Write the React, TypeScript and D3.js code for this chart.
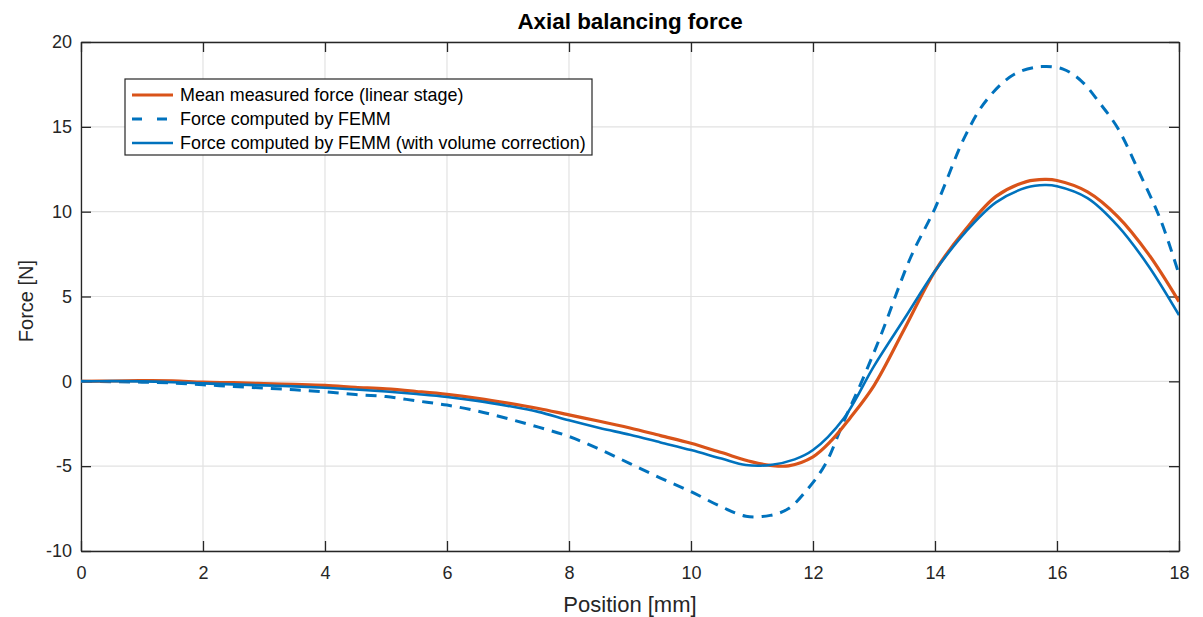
import React, { useEffect, useRef } from 'react'
import * as d3 from 'd3'

// positions in mm, forces in N
const measuredX = [0, 0.5, 1, 1.5, 2, 2.5, 3, 3.5, 4, 4.5, 5, 5.5, 6, 6.5, 7, 7.5, 8, 8.5, 9, 9.5, 10, 10.5, 11, 11.3, 11.6, 12, 12.3, 12.6, 13, 13.5, 14, 14.5, 15, 15.5, 15.8, 16, 16.5, 17, 17.5, 18]
const measuredF = [0, 0.02, 0.04, 0.03, -0.05, -0.08, -0.13, -0.18, -0.24, -0.35, -0.45, -0.6, -0.77, -1.0, -1.28, -1.6, -1.98, -2.35, -2.75, -3.2, -3.65, -4.2, -4.75, -4.95, -4.98, -4.45, -3.5, -2.2, -0.25, 3.1, 6.5, 8.95, 10.9, 11.77, 11.9, 11.84, 11.17, 9.7, 7.5, 4.7]

const femmX = [0, 0.5, 1, 1.5, 2, 2.5, 3, 3.5, 4, 4.5, 5, 5.5, 6, 6.5, 7, 7.5, 8, 8.5, 9, 9.5, 10, 10.5, 10.9, 11.3, 11.6, 11.9, 12.2, 12.5, 12.8, 13.1, 13.6, 14, 14.5, 14.85, 15.3, 15.75, 16.1, 16.4, 16.7, 17, 17.35, 17.7, 18]
const femmF = [0, -0.02, -0.05, -0.1, -0.2, -0.3, -0.4, -0.5, -0.62, -0.78, -0.9, -1.15, -1.4, -1.75, -2.2, -2.7, -3.25, -4.0, -4.85, -5.7, -6.5, -7.4, -7.95, -7.9, -7.5, -6.4, -4.9, -2.4, 0, 2.6, 7.3, 10.2, 14.5, 16.6, 18.1, 18.55, 18.4, 17.7, 16.4, 14.9, 12.3, 9.5, 6.3]

const correctedX = [0, 0.5, 1, 1.5, 2, 2.5, 3, 3.5, 4, 4.5, 5, 5.5, 6, 6.5, 7, 7.5, 8, 8.5, 9, 9.5, 10, 10.5, 10.9, 11.3, 11.7, 12, 12.5, 13, 13.5, 14, 14.5, 15, 15.5, 15.8, 16, 16.5, 17, 17.5, 18]
const correctedF = [0, 0.01, 0, -0.05, -0.12, -0.18, -0.24, -0.3, -0.38, -0.48, -0.6, -0.75, -0.92, -1.15, -1.45, -1.8, -2.3, -2.75, -3.15, -3.6, -4.05, -4.55, -4.93, -4.93, -4.6, -4.05, -2.2, 0.9, 3.7, 6.5, 8.8, 10.55, 11.42, 11.57, 11.5, 10.8, 9.15, 6.8, 3.9]

const xTicks = [0, 2, 4, 6, 8, 10, 12, 14, 16, 18]
const yTicks = [-10, -5, 0, 5, 10, 15, 20]

const legendLabels = [
  'Mean measured force (linear stage)',
  'Force computed by FEMM',
  'Force computed by FEMM (with volume correction)',
]

export default function App() {
  const chartRef = useRef<HTMLDivElement>(null)

  useEffect(() => {
    const width = 1203
    const height = 617
    const margin = { top: 42, right: 24, bottom: 66, left: 81 }
    const innerWidth = width - margin.left - margin.right
    const innerHeight = height - margin.top - margin.bottom
    const font = 'Liberation Sans, Arial, Helvetica, sans-serif'
    const orange = '#D95319'
    const blue = '#0072BD'
    const axisColor = '#262626'

    d3.select(chartRef.current).selectAll('*').remove()

    const svg = d3
      .select(chartRef.current)
      .append('svg')
      .attr('width', width)
      .attr('height', height)
      .style('display', 'block')
      .style('background', '#fff')

    const xScale = d3.scaleLinear().domain([0, 18]).range([0, innerWidth])
    const yScale = d3.scaleLinear().domain([-10, 20]).range([innerHeight, 0])

    const g = svg.append('g').attr('transform', `translate(${margin.left},${margin.top})`)

    svg.append('defs')
      .append('clipPath')
      .attr('id', 'plot-clip')
      .append('rect')
      .attr('width', innerWidth)
      .attr('height', innerHeight)

    // grid
    g.append('g')
      .selectAll('line')
      .data(xTicks)
      .enter()
      .append('line')
      .attr('x1', d => xScale(d))
      .attr('x2', d => xScale(d))
      .attr('y1', 0)
      .attr('y2', innerHeight)
      .attr('stroke', '#e2e2e2')
      .attr('stroke-width', 1.2)

    g.append('g')
      .selectAll('line')
      .data(yTicks)
      .enter()
      .append('line')
      .attr('x1', 0)
      .attr('x2', innerWidth)
      .attr('y1', d => yScale(d))
      .attr('y2', d => yScale(d))
      .attr('stroke', '#e2e2e2')
      .attr('stroke-width', 1.2)

    // axes, ticks pointing inwards on all four sides
    const tick = 10
    const fmt = (d: d3.NumberValue) => String(d)
    const bottom = g.append('g').attr('transform', `translate(0,${innerHeight})`)
      .call(d3.axisBottom(xScale).tickValues(xTicks).tickSize(-tick).tickPadding(15).tickSizeOuter(0).tickFormat(fmt))
    const top = g.append('g').call(d3.axisTop(xScale).tickValues(xTicks).tickSize(-tick).tickFormat(() => '').tickSizeOuter(0))
    const left = g.append('g')
      .call(d3.axisLeft(yScale).tickValues(yTicks).tickSize(-tick).tickPadding(9).tickSizeOuter(0).tickFormat(fmt))
    const right = g.append('g').attr('transform', `translate(${innerWidth},0)`)
      .call(d3.axisRight(yScale).tickValues(yTicks).tickSize(-tick).tickFormat(() => '').tickSizeOuter(0))

    ;[bottom, top, left, right].forEach(a => {
      a.select('.domain').attr('stroke', axisColor).attr('stroke-width', 1.3)
      a.selectAll('.tick line').attr('stroke', axisColor).attr('stroke-width', 1.3)
      a.selectAll('.tick text')
        .attr('fill', axisColor)
        .style('font-family', font)
        .style('font-size', '18px')
    })

    // lines
    const lineGen = (xs: number[]) =>
      d3.line<number>()
        .x((_, i) => xScale(xs[i]))
        .y(d => yScale(d))
        .curve(d3.curveCatmullRom.alpha(0.5))

    const lines = g.append('g').attr('clip-path', 'url(#plot-clip)')

    lines.append('path')
      .attr('d', lineGen(femmX)(femmF))
      .attr('fill', 'none')
      .attr('stroke', blue)
      .attr('stroke-width', 3)
      .attr('stroke-dasharray', '11,8')

    lines.append('path')
      .attr('d', lineGen(measuredX)(measuredF))
      .attr('fill', 'none')
      .attr('stroke', orange)
      .attr('stroke-width', 3.2)

    lines.append('path')
      .attr('d', lineGen(correctedX)(correctedF))
      .attr('fill', 'none')
      .attr('stroke', blue)
      .attr('stroke-width', 2.6)

    // title and axis labels
    svg.append('text')
      .attr('x', margin.left + innerWidth / 2)
      .attr('y', 29)
      .attr('text-anchor', 'middle')
      .style('font-family', font)
      .style('font-size', '22.4px')
      .style('font-weight', 'bold')
      .attr('fill', '#000')
      .text('Axial balancing force')

    svg.append('text')
      .attr('x', margin.left + innerWidth / 2)
      .attr('y', 612)
      .attr('text-anchor', 'middle')
      .style('font-family', font)
      .style('font-size', '22px')
      .attr('fill', axisColor)
      .text('Position [mm]')

    svg.append('text')
      .attr('transform', `translate(33,301) rotate(-90)`)
      .attr('text-anchor', 'middle')
      .style('font-family', font)
      .style('font-size', '20px')
      .attr('fill', axisColor)
      .text('Force [N]')

    // legend
    const legend = svg.append('g').attr('transform', 'translate(125,79)')
    legend.append('rect')
      .attr('width', 467)
      .attr('height', 76)
      .attr('fill', '#fff')
      .attr('stroke', axisColor)
      .attr('stroke-width', 1.2)

    const legendStyles = [
      { color: orange, dash: null, w: 3.2 },
      { color: blue, dash: '10,15', w: 3 },
      { color: blue, dash: null, w: 2.6 },
    ]
    legendLabels.forEach((label, i) => {
      const y = 16 + i * 24
      legend.append('line')
        .attr('x1', 7)
        .attr('x2', 48)
        .attr('y1', y)
        .attr('y2', y)
        .attr('stroke', legendStyles[i].color)
        .attr('stroke-width', legendStyles[i].w)
        .attr('stroke-dasharray', legendStyles[i].dash)
      legend.append('text')
        .attr('x', 55)
        .attr('y', y)
        .attr('dy', '0.35em')
        .style('font-family', font)
        .style('font-size', '17.9px')
        .attr('fill', '#000')
        .text(label)
    })
  }, [])

  return (
    <div ref={chartRef} style={{ position: 'absolute', left: 0, top: 0 }}></div>
  )
}
